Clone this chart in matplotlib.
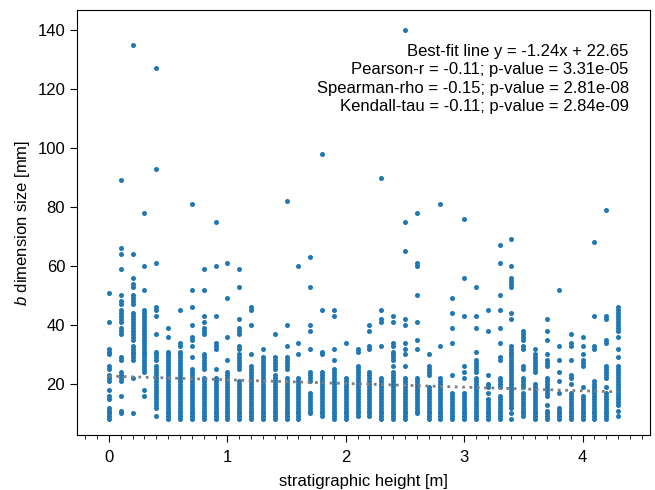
import numpy as np
import matplotlib
matplotlib.use("Agg")
import matplotlib.pyplot as plt
from matplotlib.ticker import MultipleLocator

plt.rcParams['font.family'] = ['Liberation Sans', 'DejaVu Sans']
plt.rcParams['mathtext.fontset'] = 'custom'
plt.rcParams['mathtext.it'] = 'Liberation Sans:italic'
plt.rcParams['mathtext.rm'] = 'Liberation Sans'

# stratigraphic height of each sampled level [m]
heights = [0.0, 0.1, 0.2, 0.3, 0.4, 0.5, 0.6, 0.7, 0.8, 0.9,
           1.0, 1.1, 1.2, 1.3, 1.4, 1.5, 1.6, 1.7, 1.8, 1.9,
           2.0, 2.1, 2.2, 2.3, 2.4, 2.5, 2.6, 2.7, 2.8, 2.9,
           3.0, 3.1, 3.2, 3.3, 3.4, 3.5, 3.6, 3.7, 3.8, 3.9,
           4.0, 4.1, 4.2, 4.3]

# b dimension sizes [mm] read per level (one list per height)
b_sizes = [
    [51, 41, 32, 31, 30, 26, 25, 23, 22, 21, 18, 16, 15, 12, 11, 10, 9, 8],
    [89, 66, 64, 59, 50, 48, 47, 45, 44, 43, 42, 41, 39, 38, 37, 29, 28, 24, 23, 22, 21, 16, 11, 10],
    [135, 64, 56, 54, 53, 50, 49, 48, 47, 44, 43, 42, 41, 40, 39, 38, 37, 36, 35, 33, 32, 31, 30, 29, 28, 22, 10],
    [78, 60, 52, 45, 44, 43, 42, 41, 40, 39, 38, 37, 36, 35, 34, 33, 32, 31, 30, 29, 28, 27, 26, 25, 24, 18, 16],
    [127, 93, 61, 46, 45, 43, 37, 31, 30, 29, 28, 26, 25, 24, 23, 22, 21, 20, 19, 18, 17, 16, 15, 14, 13, 12, 9],
    [39, 36, 31, 30, 29, 28, 27, 26, 25, 24, 23, 22, 21, 20, 19, 18, 17, 16, 15, 14, 13, 12, 11, 10, 9, 8],
    [45, 34, 33, 31, 30, 29, 28, 27, 26, 25, 24, 23, 22, 21, 20, 19, 18, 17, 16, 15, 14, 13, 12, 11, 10, 9, 8],
    [81, 52, 46, 40, 36, 35, 33, 29, 25, 24, 23, 22, 21, 20, 19, 18, 17, 16, 15, 14, 13, 12, 11, 10, 9, 8],
    [59, 52, 43, 41, 39, 38, 37, 30, 29, 28, 27, 26, 25, 22, 21, 20, 19, 18, 17, 16, 15, 14, 13, 12, 11, 10, 9, 8],
    [75, 60, 43, 34, 33, 32, 25, 22, 21, 20, 19, 18, 17, 16, 15, 14, 13, 12, 11, 10, 9, 8],
    [61, 49, 36, 28, 24, 23, 22, 21, 20, 19, 18, 17, 16, 15, 14, 13, 12, 11, 10, 9, 8],
    [59, 53, 42, 39, 38, 37, 33, 32, 30, 29, 28, 27, 26, 25, 21, 20, 19, 18, 17, 16, 15, 14, 13, 12, 11, 10, 9, 8],
    [46, 45, 40, 30, 26, 25, 24, 23, 22, 21, 20, 19, 18, 17, 16, 15, 14, 13, 12, 11, 10, 9, 8],
    [32, 29, 28, 27, 26, 25, 24, 23, 22, 21, 20, 19, 18, 17, 16, 15, 14, 13, 12, 11, 10, 9, 8],
    [37, 29, 28, 27, 26, 25, 23, 22, 21, 20, 19, 18, 17, 16, 15, 14, 13, 12, 11, 10, 9, 8],
    [82, 40, 33, 29, 28, 27, 26, 25, 22, 21, 20, 19, 18, 17, 16, 15, 14, 13, 12, 11, 10, 9, 8],
    [60, 34, 30, 22, 21, 20, 19, 18, 17, 16, 15, 14, 13, 12, 11, 10, 9, 8],
    [63, 53, 40, 38, 32, 24, 23, 22, 21, 17, 16, 15, 14, 13, 12, 11, 10],
    [98, 45, 31, 30, 24, 23, 22, 21, 20, 19, 18, 17, 16, 15, 14, 13, 12, 11, 10, 9],
    [45, 43, 32, 28, 25, 24, 23, 22, 21, 20, 19, 18, 17, 16, 15, 14, 13, 12, 11, 10, 9, 8],
    [34, 22, 21, 20, 19, 18, 17, 16, 15, 14, 13, 12, 11, 10, 9, 8],
    [32, 31, 26, 25, 24, 23, 22, 21, 20, 19, 18, 17, 16, 15, 14, 13, 12, 11, 10, 9],
    [40, 38, 33, 32, 24, 23, 22, 21, 20, 19, 18, 17, 16, 15, 14, 13, 12, 11, 10, 9],
    [90, 45, 42, 41, 33, 22, 21, 20, 19, 18, 17, 16, 15, 14, 13, 12, 11, 10, 9, 8],
    [43, 41, 34, 33, 31, 30, 29, 28, 26, 24, 23, 22, 21, 20, 19, 18, 17, 16, 15, 14, 13, 12, 11, 10, 9, 8],
    [140, 75, 65, 42, 40, 34, 32, 30, 26, 22, 21, 20, 19, 18, 17, 16, 15, 14, 13, 12, 11, 10, 9, 8],
    [78, 61, 60, 50, 41, 35, 32, 22, 21, 20, 19, 18, 17, 16, 15, 14, 13, 12, 11, 10],
    [30, 26, 25, 24, 23, 19, 18, 17, 16, 15, 14, 13, 12, 11, 10, 9, 8],
    [81, 33, 22, 21, 20, 19, 18, 17, 16, 15, 14, 13, 12, 11, 10, 9, 8],
    [49, 44, 39, 34, 23, 17, 16, 15, 14, 13, 12, 11, 10, 9, 8],
    [76, 56, 43, 26, 24, 22, 17, 16, 15, 14, 13, 12, 11, 10, 9, 8],
    [53, 43, 39, 31, 28, 27, 26, 25, 24, 22, 21, 20, 19, 18, 17, 16, 15, 14, 13, 12, 11, 10, 9, 8],
    [45, 38, 23, 20, 19, 17, 15, 14, 13, 12, 11, 10, 9, 8],
    [67, 61, 50, 45, 39, 34, 29, 28, 22, 21, 20, 19, 16, 15, 14, 13, 12, 11, 10, 9, 8],
    [69, 60, 56, 55, 54, 53, 44, 42, 33, 32, 31, 30, 29, 28, 27, 26, 25, 24, 23, 22, 21, 20, 19, 18, 17, 16, 15, 14, 13, 12, 10, 8],
    [38, 37, 36, 35, 33, 32, 26, 25, 22, 21, 20, 19, 17, 16, 15, 14, 13, 12, 11, 10, 9],
    [32, 30, 29, 28, 27, 26, 25, 24, 20, 19, 18, 17, 16, 15, 14, 13, 12, 11, 10, 9, 8],
    [42, 38, 35, 30, 28, 27, 26, 22, 21, 20, 19, 18, 17, 16, 13, 11, 10, 9, 8],
    [52, 33, 28, 24, 21, 17, 12, 11, 10, 9, 8],
    [37, 34, 33, 28, 23, 22, 20, 17, 16, 15, 14, 13, 12, 11, 10, 9, 8],
    [36, 33, 30, 28, 27, 26, 19, 16, 15, 14, 13, 12, 11, 10, 9, 8],
    [68, 43, 33, 32, 21, 20, 19, 18, 17, 16, 15, 14, 13, 12, 11, 10, 9, 8],
    [79, 43, 42, 35, 34, 26, 25, 24, 23, 22, 19, 17, 16, 15, 14, 13, 12, 11, 10, 9, 8],
    [46, 45, 44, 43, 42, 41, 40, 39, 38, 36, 32, 29, 26, 25, 24, 23, 22, 21, 20, 19, 18, 17, 16, 15, 14, 13, 11, 9],
]

# linear fit and correlation stats as printed on the chart
fit_slope = -1.24
fit_intercept = 22.65
stats_lines = [
    'Best-fit line y = -1.24x + 22.65',
    'Pearson-r = -0.11; p-value = 3.31e-05',
    'Spearman-rho = -0.15; p-value = 2.81e-08',
    'Kendall-tau = -0.11; p-value = 2.84e-09',
]

x = np.concatenate([[h] * len(v) for h, v in zip(heights, b_sizes)])
y = np.concatenate(b_sizes)

fig = plt.figure(figsize=(6.55, 4.9), dpi=100)
ax = fig.add_axes([77 / 655, 55 / 490, 573 / 655, 425 / 490])

ax.scatter(x, y, s=13, color='#1f77b4', linewidths=0, zorder=2)

x_fit = np.array([min(heights), max(heights)])
ax.plot(x_fit, fit_slope * x_fit + fit_intercept, linestyle=':', color='grey',
        linewidth=2, zorder=3)

ax.text(0.963, 0.92, '\n'.join(stats_lines), transform=ax.transAxes,
        ha='right', va='top', multialignment='right', fontsize=12,
        linespacing=1.28)

ax.set_xlim(-0.27, 4.57)
ax.set_ylim(2.7, 146.8)
ax.set_yticks([20, 40, 60, 80, 100, 120, 140])
ax.set_xticks([0, 1, 2, 3, 4])
ax.xaxis.set_minor_locator(MultipleLocator(0.1))
ax.tick_params(which='major', length=5, labelsize=12)
ax.tick_params(which='minor', length=3)
ax.tick_params(axis='x', which='major', pad=6)

ax.set_xlabel('stratigraphic height [m]', fontsize=12, labelpad=6)
ax.set_ylabel('$b$ dimension size [mm]', fontsize=12)

fig.savefig('out.png', dpi=100)
